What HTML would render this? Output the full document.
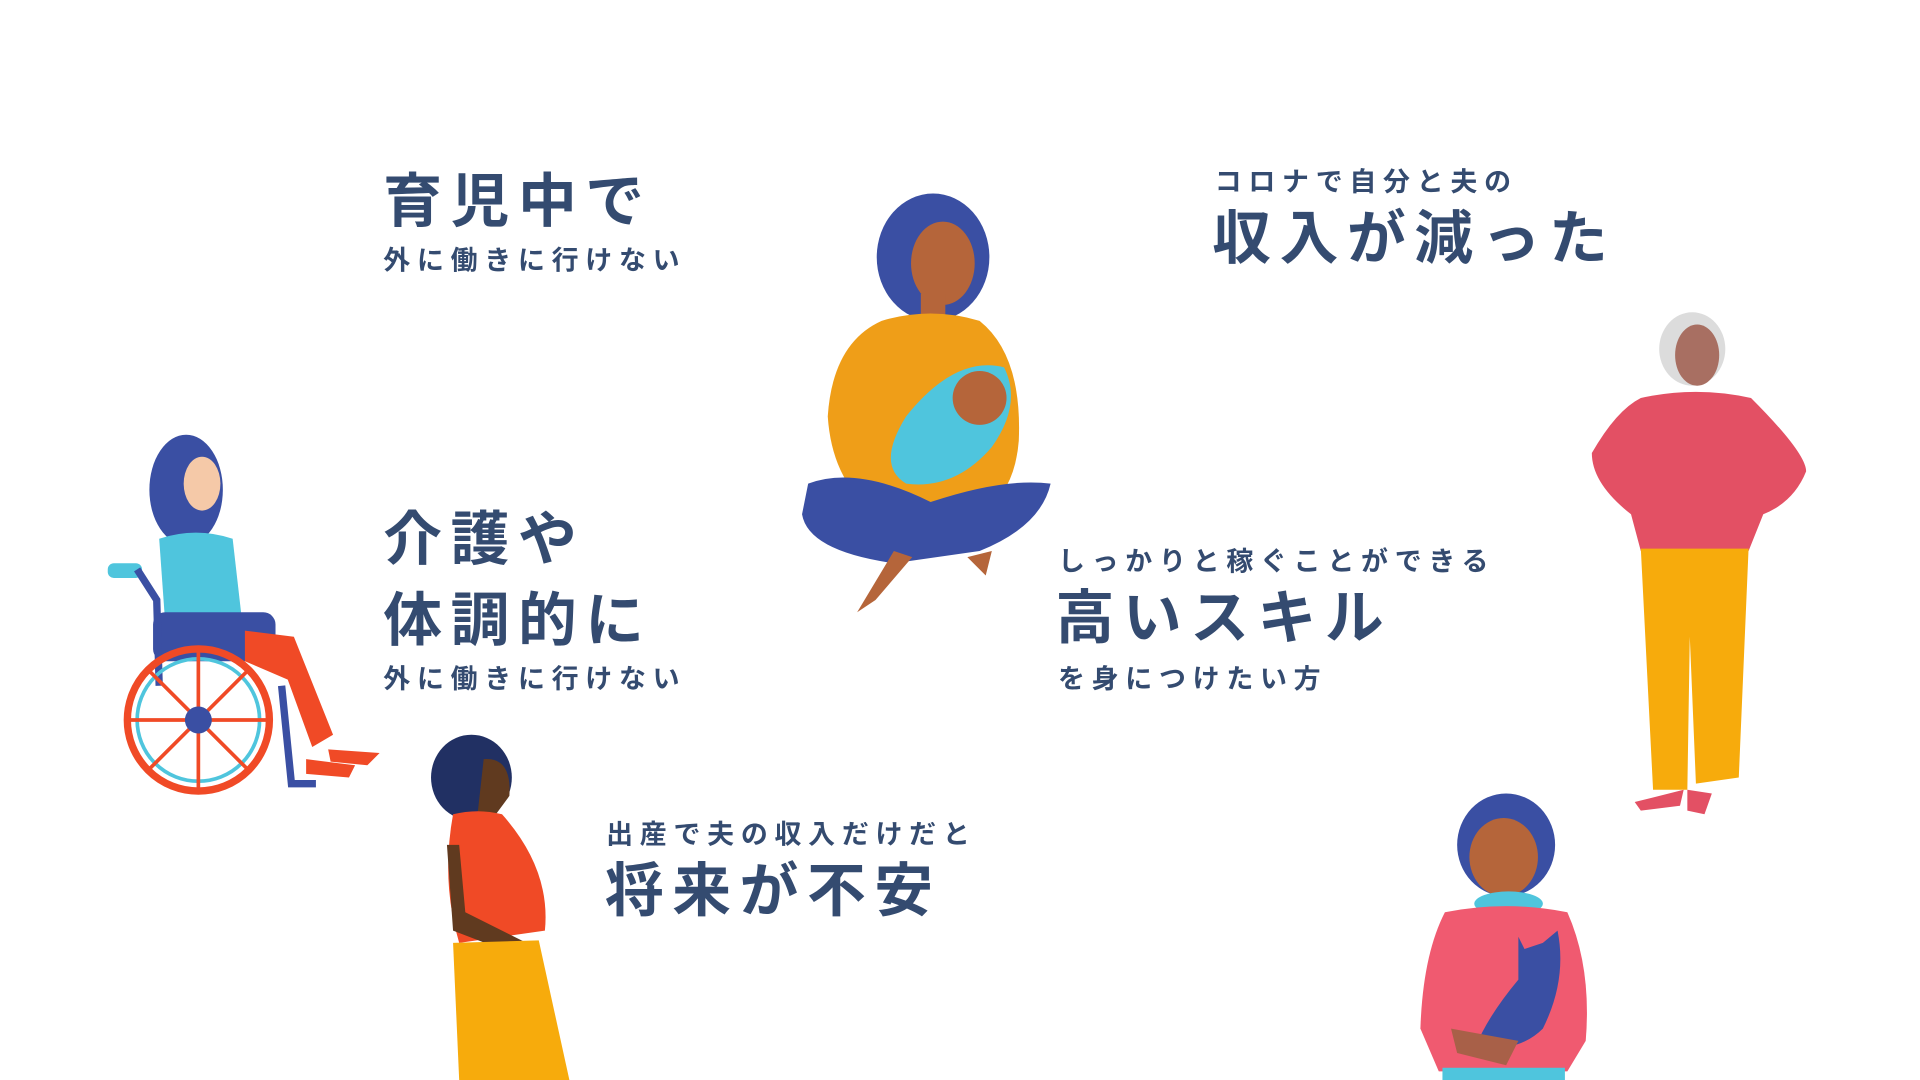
<!DOCTYPE html>
<html><head><meta charset="utf-8"><style>
html,body{margin:0;padding:0;background:#fff;overflow:hidden;width:1920px;height:1080px}
#s{position:absolute;left:0;top:0;width:1568px;height:882px;transform:scale(1.22449);transform-origin:0 0}
.t{position:absolute;color:#344b70;font-family:"Liberation Sans","Noto Sans CJK JP",sans-serif;font-weight:bold;white-space:nowrap;line-height:1}
.b{font-size:48px;letter-spacing:7px}
.m{font-size:22px;letter-spacing:5.5px}
svg{position:absolute;left:0;top:0}
</style></head><body><div id="s">
<div class="t b" style="left:313px;top:142px">育児中で</div>
<div class="t m" style="left:313px;top:202px">外に働きに行けない</div>
<div class="t m" style="left:992px;top:138px">コロナで自分と夫の</div>
<div class="t b" style="left:990px;top:172px">収入が減った</div>
<div class="t b" style="left:313px;top:418px">介護や</div>
<div class="t b" style="left:313px;top:484px">体調的に</div>
<div class="t m" style="left:313px;top:544px">外に働きに行けない</div>
<div class="t m" style="left:864px;top:448px">しっかりと稼ぐことができる</div>
<div class="t b" style="left:862px;top:482px">高いスキル</div>
<div class="t m" style="left:864px;top:544px">を身につけたい方</div>
<div class="t m" style="left:495px;top:671px">出産で夫の収入だけだと</div>
<div class="t b" style="left:494px;top:705px">将来が不安</div>
<svg width="1568" height="882" viewBox="0 0 1568 882">
<ellipse cx="762" cy="210" rx="46" ry="52" fill="#3a4fa3"/>
<ellipse cx="770" cy="215" rx="26" ry="34" fill="#b5653a"/>
<rect x="752" y="240" width="20" height="30" fill="#b5653a"/>
<path d="M720 262 Q760 250 800 262 Q835 290 832 360 Q828 410 790 425 L725 425 Q680 400 676 340 Q680 280 720 262Z" fill="#ef9e18"/>
<path d="M740 340 Q780 290 820 300 Q835 330 810 365 Q780 400 740 395 Q715 380 740 340Z" fill="#4fc5dd"/>
<ellipse cx="800" cy="325" rx="22" ry="22" fill="#b5653a"/>
<path d="M660 395 Q700 380 760 410 Q820 390 858 395 Q850 430 800 450 L730 460 Q660 450 655 420Z" fill="#3a4fa3"/>
<path d="M730 450 L745 455 L715 490 L700 500Z M790 455 L810 450 L805 470Z" fill="#b5653a"/>
<ellipse cx="152" cy="400" rx="30" ry="45" fill="#3a4fa3"/>
<ellipse cx="165" cy="395" rx="15" ry="22" fill="#f5c9a8"/>
<path d="M130 440 Q160 430 190 440 L198 510 L135 510Z" fill="#4fc5dd"/>
<rect x="125" y="500" width="100" height="40" rx="10" fill="#3a4fa3"/>
<path d="M200 515 L240 520 L272 600 L255 610 L235 555 L200 540Z" fill="#f04a26"/>
<path d="M250 620 L290 625 L285 635 L250 632Z M268 612 L310 615 L300 625 L270 622Z" fill="#f04a26"/>
<rect x="88" y="460" width="28" height="12" rx="5" fill="#4fc5dd"/>
<path d="M112 465 L128 490 L130 560" stroke="#3a4fa3" stroke-width="6" fill="none"/>
<path d="M230 560 L238 640 L258 640" stroke="#3a4fa3" stroke-width="6" fill="none"/>
<circle cx="162" cy="588" r="58" fill="none" stroke="#f04a26" stroke-width="6"/>
<circle cx="162" cy="588" r="50" fill="none" stroke="#4fc5dd" stroke-width="3"/>
<g stroke="#f04a26" stroke-width="3"><line x1="104" y1="588" x2="220" y2="588"/><line x1="162" y1="530" x2="162" y2="646"/><line x1="121" y1="547" x2="203" y2="629"/><line x1="203" y1="547" x2="121" y2="629"/></g>
<circle cx="162" cy="588" r="11" fill="#3a4fa3"/>
<ellipse cx="385" cy="635" rx="33" ry="35" fill="#213063"/>
<path d="M395 620 Q418 618 416 650 L405 665 L390 665Z" fill="#603a1f"/>
<path d="M370 665 Q390 660 410 665 Q450 710 445 760 L375 770 Q360 720 370 665Z" fill="#f04a26"/>
<path d="M365 690 L375 690 L380 745 L440 775 L435 785 L370 760Z" fill="#603a1f"/>
<path d="M370 770 L440 768 L465 882 L375 882Z" fill="#f7ab0c"/>
<ellipse cx="1382" cy="285" rx="27" ry="30" fill="#dcdcdc"/>
<ellipse cx="1386" cy="290" rx="18" ry="25" fill="#a86f62"/>
<path d="M1340 325 Q1385 315 1430 325 Q1475 370 1475 385 Q1465 410 1440 420 L1428 450 L1340 450 L1332 420 Q1300 395 1300 370 Q1320 335 1340 325Z" fill="#e35064"/>
<path d="M1340 448 L1428 448 L1420 635 L1385 640 L1380 520 L1378 645 L1350 645 Z" fill="#f7ab0c"/>
<path d="M1335 655 L1375 645 L1372 658 L1340 662Z M1378 645 L1398 648 L1392 665 L1378 662Z" fill="#e35064"/>
<ellipse cx="1230" cy="690" rx="40" ry="42" fill="#3a4fa3"/>
<ellipse cx="1228" cy="700" rx="28" ry="32" fill="#b5653a"/>
<ellipse cx="1232" cy="738" rx="28" ry="10" fill="#4fc5dd"/>
<path d="M1180 745 Q1230 735 1280 745 Q1300 790 1295 850 L1280 875 L1175 875 L1160 840 Q1162 780 1180 745Z" fill="#f05a70"/>
<path d="M1240 765 L1245 775 L1260 770 L1272 760 Q1280 800 1260 840 Q1240 860 1205 855 Q1215 830 1240 800Z" fill="#3a4fa3"/>
<path d="M1185 840 L1240 850 L1230 870 L1190 860Z" fill="#a86048"/>
<rect x="1178" y="872" width="100" height="10" fill="#4fc5dd"/>
</svg>
</div></body></html>
